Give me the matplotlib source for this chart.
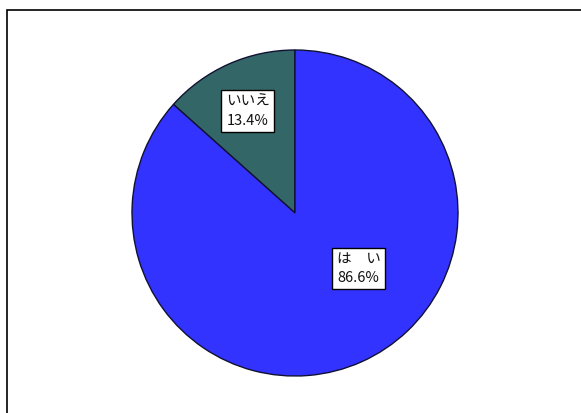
import matplotlib
matplotlib.use("Agg")
import matplotlib.pyplot as plt
from matplotlib.patches import Rectangle

plt.rcParams['font.family'] = ['Noto Sans CJK JP', 'DejaVu Sans']

categories = ["いいえ", "はい"]
values = [13.4, 86.6]
display_names = ["いいえ", "は\u3000い"]
colors = ["#336666", "#3333FF"]
label_pos = [(-0.29, 0.625), (0.39, -0.34)]

fig = plt.figure(figsize=(5.81, 4.13), dpi=100)
fig.patch.set_facecolor("white")

# outer frame (only top/left visible, as in reference)
fig.patches.append(Rectangle((7/581, -0.05), 1.2, (413-10)/413 + 0.05,
                             transform=fig.transFigure, fill=False,
                             edgecolor="black", linewidth=1.2))

ax = fig.add_axes([132/581, 37/413, 326/581, 326/413])
wedges, _ = ax.pie(values, colors=colors, startangle=90, counterclock=True,
                   wedgeprops=dict(edgecolor="#111133", linewidth=1.0))
ax.set_xlim(-1.0, 1.0)
ax.set_ylim(-1.0, 1.0)
ax.set_aspect("auto")
ax.axis("off")

for name, v, (x, y) in zip(display_names, values, label_pos):
    ax.text(x, y, f"{name}\n{v:.1f}%", ha="center", va="center",
            fontsize=10.5, color="#111111", linespacing=1.45,
            bbox=dict(boxstyle="square,pad=0.3", facecolor="white",
                      edgecolor="black", linewidth=1.0))

fig.savefig("out.png", dpi=100)
